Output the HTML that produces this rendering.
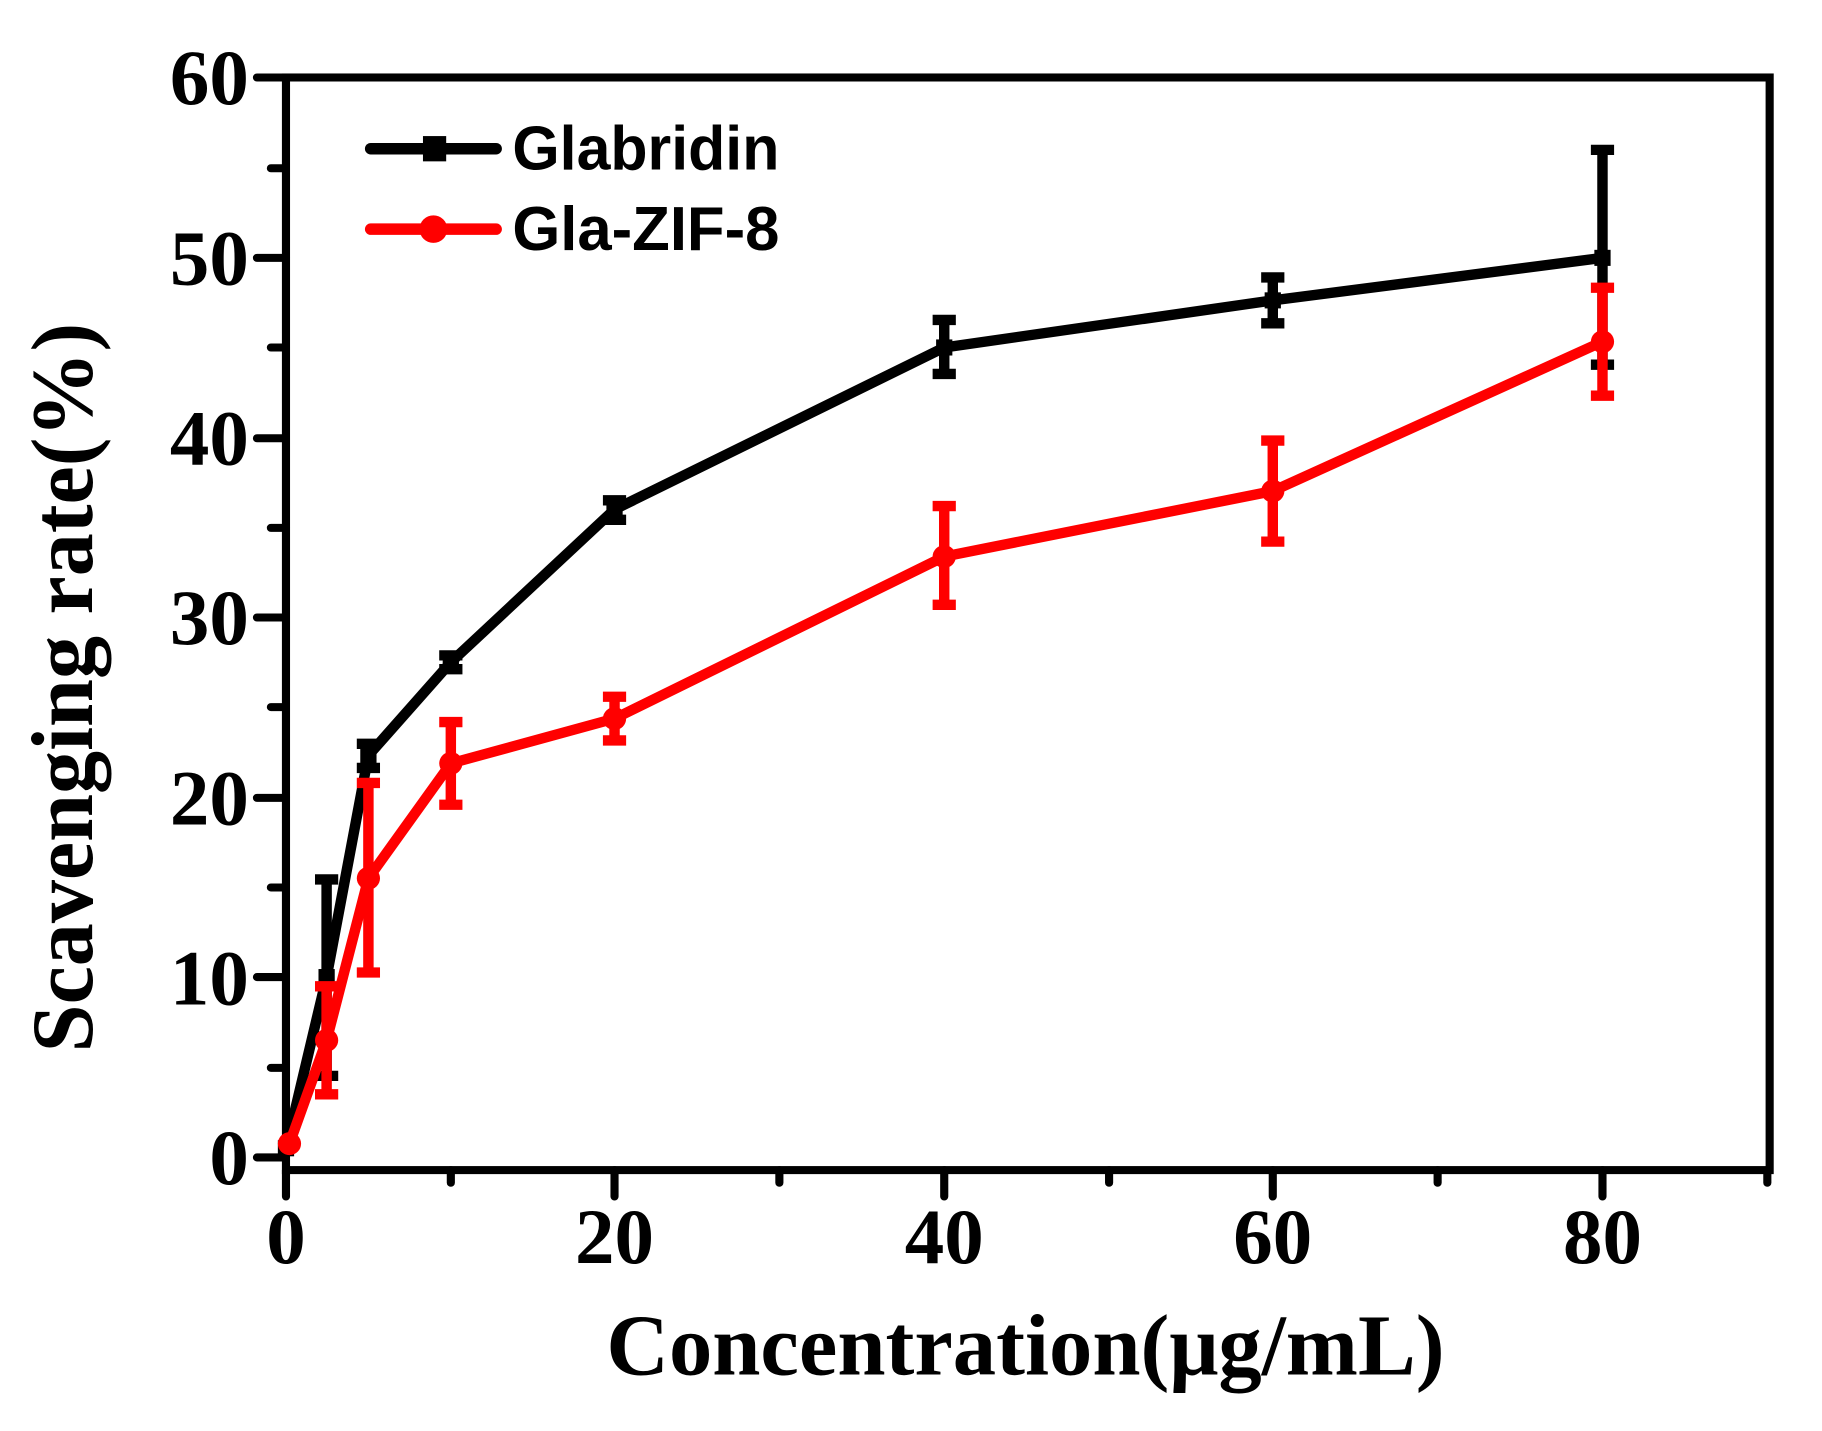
<!DOCTYPE html>
<html><head><style>html,body{margin:0;padding:0;background:#fff}svg{display:block}</style></head><body>
<svg width="1822" height="1431" viewBox="0 0 1552 1219" preserveAspectRatio="none" xmlns="http://www.w3.org/2000/svg">
<g transform="matrix(0.9889 0 0 0.9787 -0.66 1.41)">
<g font-family="Liberation Serif, serif" font-weight="bold" font-size="68" text-anchor="end">
<text x="215" y="1029">0</text><text x="215" y="873">10</text><text x="215" y="716">20</text><text x="215" y="559">30</text><text x="215" y="403">40</text><text x="215" y="246">50</text><text x="215" y="89">60</text>
</g>
<g font-family="Liberation Serif, serif" font-weight="bold" font-size="68" text-anchor="middle">
<text x="247" y="1098">0</text><text x="530" y="1098">20</text><text x="814" y="1098">40</text><text x="1097" y="1098">60</text><text x="1381" y="1098">80</text>
<text x="884" y="1195" font-size="76" textLength="722" lengthAdjust="spacingAndGlyphs">Concentration(μg/mL)</text>
<text transform="translate(80,597) rotate(-90)" font-size="76" textLength="635" lengthAdjust="spacingAndGlyphs">Scavenging rate(%)</text>
</g>
<g stroke="#000" stroke-width="7" fill="none" stroke-linecap="round">
<rect x="247" y="66" width="1278" height="951"/>
<path d="M247 1006H222M247 849H222M247 693H222M247 536H222M247 380H222M247 223H222M247 66H222M247 928H234M247 771H234M247 614H234M247 458H234M247 301H234M247 145H234"/>
<path d="M247 1017V1040M530 1017V1040M814 1017V1040M1097 1017V1040M1381 1017V1040M389 1017V1028M672 1017V1028M956 1017V1028M1239 1017V1028M1523 1017V1028"/>
</g>
<g stroke="#000" stroke-width="9" fill="none">
<polyline points="247,998 282,849 318,656 389,575 530,442 814,301 1097,260 1381,223"/>
<path d="M282,935V764M272,935h20M272,764h20 M318,667V646M308,667h20M308,646h20 M389,581V569M379,581h20M379,569h20 M530,451V434M520,451h20M520,434h20 M814,324V277M804,324h20M804,277h20 M1097,280V240M1087,280h20M1087,240h20 M1381,316V129M1371,316h20M1371,129h20"/>
</g>
<g fill="#000">
<rect x="240" y="991" width="14" height="14"/><rect x="275" y="842" width="14" height="14"/><rect x="311" y="649" width="14" height="14"/><rect x="382" y="568" width="14" height="14"/><rect x="523" y="435" width="14" height="14"/><rect x="807" y="294" width="14" height="14"/><rect x="1090" y="253" width="14" height="14"/><rect x="1374" y="216" width="14" height="14"/>
</g>
<g stroke="#f00" stroke-width="9" fill="none">
<polyline points="250,994 282,904 318,763 389,663 530,624 814,483 1097,426 1381,296"/>
<path d="M282,951V857M272,951h20M272,857h20 M318,845V680M308,845h20M308,680h20 M389,699V627M379,699h20M379,627h20 M530,643V605M520,643h20M520,605h20 M814,525V439M804,525h20M804,439h20 M1097,470V382M1087,470h20M1087,382h20 M1381,343V249M1371,343h20M1371,249h20"/>
</g>
<g fill="#f00">
<circle cx="250" cy="994" r="10"/><circle cx="282" cy="904" r="10"/><circle cx="318" cy="763" r="10"/><circle cx="389" cy="663" r="10"/><circle cx="530" cy="624" r="10"/><circle cx="814" cy="483" r="10"/><circle cx="1097" cy="426" r="10"/><circle cx="1381" cy="296" r="10"/>
</g>
<line x1="320" y1="128" x2="428" y2="128" stroke="#000" stroke-width="10" stroke-linecap="round"/>
<rect x="365" y="117" width="20" height="22" fill="#000"/>
<line x1="320" y1="198" x2="428" y2="198" stroke="#f00" stroke-width="10" stroke-linecap="round"/>
<circle cx="374" cy="198" r="12" fill="#f00"/>
<g font-family="Liberation Sans, sans-serif" font-weight="bold" font-size="54">
<text x="442" y="146" textLength="230" lengthAdjust="spacingAndGlyphs">Glabridin</text><text x="442" y="216" textLength="230" lengthAdjust="spacingAndGlyphs">Gla-ZIF-8</text>
</g>
</g>
</svg>
</body></html>
